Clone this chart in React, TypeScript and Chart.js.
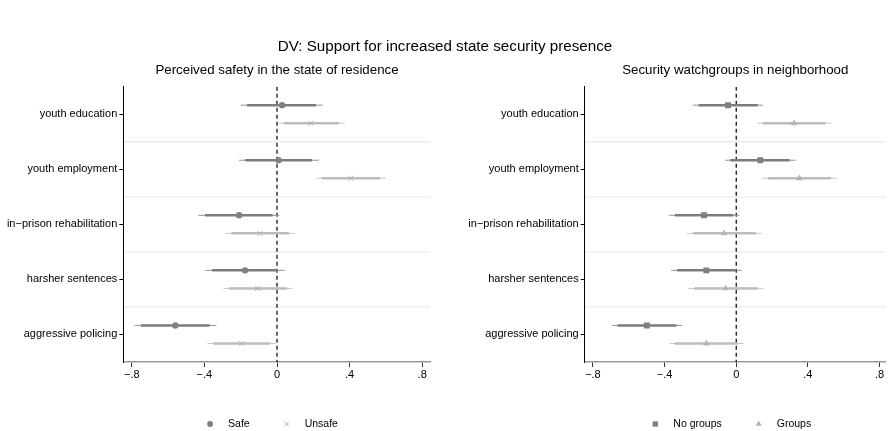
import React, { useEffect, useRef } from "react";
import { Chart, registerables } from "chart.js";

Chart.register(...registerables);

const FONT = '"Liberation Sans", Arial, Helvetica, sans-serif';

// ---------- data ----------
const mainTitle = "DV: Support for increased state security presence";
const categories = [
  "youth education",
  "youth employment",
  "in\u2212prison rehabilitation",
  "harsher sentences",
  "aggressive policing",
];
const xTickValues = [-0.8, -0.4, 0, 0.4, 0.8];

// Panel 1: Perceived safety in the state of residence
const leftTitle = "Perceived safety in the state of residence";
const safeEst = [0.028, 0.009, -0.209, -0.176, -0.56];
const safeLo95 = [-0.2, -0.209, -0.434, -0.395, -0.785];
const safeHi95 = [0.252, 0.23, 0.013, 0.044, -0.334];
const safeLo90 = [-0.165, -0.175, -0.397, -0.358, -0.75];
const safeHi90 = [0.215, 0.193, -0.024, 0.006, -0.371];

const unsafeEst = [0.188, 0.406, -0.092, -0.107, -0.195];
const unsafeLo95 = [0.008, 0.217, -0.281, -0.296, -0.384];
const unsafeHi95 = [0.373, 0.599, 0.097, 0.086, -0.007];
const unsafeLo90 = [0.037, 0.246, -0.252, -0.265, -0.353];
const unsafeHi90 = [0.342, 0.568, 0.066, 0.055, -0.039];

// Panel 2: Security watchgroups in neighborhood
const rightTitle = "Security watchgroups in neighborhood";
const noGroupsEst = [-0.046, 0.134, -0.18, -0.167, -0.499];
const noGroupsLo95 = [-0.242, -0.062, -0.376, -0.363, -0.694];
const noGroupsHi95 = [0.149, 0.331, 0.017, 0.03, -0.301];
const noGroupsLo90 = [-0.211, -0.033, -0.343, -0.33, -0.663];
const noGroupsHi90 = [0.12, 0.298, -0.016, -0.002, -0.334];

const groupsEst = [0.323, 0.353, -0.068, -0.059, -0.167];
const groupsLo95 = [0.116, 0.145, -0.275, -0.268, -0.373];
const groupsHi95 = [0.531, 0.562, 0.143, 0.151, 0.042];
const groupsLo90 = [0.147, 0.178, -0.242, -0.235, -0.343];
const groupsHi90 = [0.498, 0.529, 0.11, 0.12, 0.009];

// ---------- styles ----------
const DARK = { point: "#808080", thick: "#7c7c7c", thin: "#929292" };
const LIGHT = { point: "#b4b4b4", thick: "#bcbcbc", thin: "#c9c9c9" };
const ROW_OFFSET = 0.164;

type Series = {
  label: string;
  est: number[];
  lo95: number[];
  hi95: number[];
  lo90: number[];
  hi90: number[];
  style: string;
  radius: number;
  colors: { point: string; thick: string; thin: string };
  offset: number;
};

type Panel = {
  title: string;
  series: Series[];
  xMin: number;
  xMax: number;
  yAxisWidth: number;
  padRight: number;
};

const panels: Panel[] = [
  {
    title: leftTitle,
    xMin: -0.847,
    xMax: 0.847,
    yAxisWidth: 123.3,
    padRight: 14.3,
    series: [
      { label: "Safe", est: safeEst, lo95: safeLo95, hi95: safeHi95, lo90: safeLo90, hi90: safeHi90, style: "circle", radius: 3.2, colors: DARK, offset: -ROW_OFFSET },
      { label: "Unsafe", est: unsafeEst, lo95: unsafeLo95, hi95: unsafeHi95, lo90: unsafeLo90, hi90: unsafeHi90, style: "crossRot", radius: 3.6, colors: LIGHT, offset: ROW_OFFSET },
    ],
  },
  {
    title: rightTitle,
    xMin: -0.846,
    xMax: 0.835,
    yAxisWidth: 139.7,
    padRight: 0,
    series: [
      { label: "No groups", est: noGroupsEst, lo95: noGroupsLo95, hi95: noGroupsHi95, lo90: noGroupsLo90, hi90: noGroupsHi90, style: "rect", radius: 4.2, colors: DARK, offset: -ROW_OFFSET },
      { label: "Groups", est: groupsEst, lo95: groupsLo95, hi95: groupsHi95, lo90: groupsLo90, hi90: groupsHi90, style: "triangle", radius: 3.8, colors: LIGHT, offset: ROW_OFFSET },
    ],
  },
];

function segments(lo: number[], hi: number[], off: number) {
  const pts: { x: number | null; y: number | null }[] = [];
  lo.forEach((l, i) => {
    const y = i + 0.5 + off;
    pts.push({ x: l, y }, { x: hi[i], y }, { x: null, y: null });
  });
  return pts;
}

function fmtTick(v: number) {
  if (Math.abs(v) < 1e-9) return "0";
  const s = Math.abs(v).toFixed(1).replace(/^0/, "");
  return v < 0 ? "\u2212" + s : s;
}

function drawMarker(ctx: CanvasRenderingContext2D, style: string, x: number, y: number, r: number, color: string) {
  ctx.save();
  ctx.fillStyle = color;
  ctx.strokeStyle = color;
  ctx.lineWidth = 1;
  ctx.beginPath();
  if (style === "circle") {
    ctx.arc(x, y, r, 0, Math.PI * 2);
    ctx.fill();
  } else if (style === "crossRot") {
    const d = r * Math.SQRT1_2;
    ctx.moveTo(x - d, y - d);
    ctx.lineTo(x + d, y + d);
    ctx.moveTo(x - d, y + d);
    ctx.lineTo(x + d, y - d);
    ctx.stroke();
  } else if (style === "rect") {
    const s = r * Math.SQRT1_2;
    ctx.rect(x - s, y - s, 2 * s, 2 * s);
    ctx.fill();
  } else if (style === "triangle") {
    ctx.moveTo(x, y - r);
    ctx.lineTo(x + r * 0.866, y + r / 2);
    ctx.lineTo(x - r * 0.866, y + r / 2);
    ctx.closePath();
    ctx.fill();
  }
  ctx.restore();
}

const separatorPlugin = {
  id: "separators",
  beforeDatasetsDraw(chart: any) {
    const { ctx, chartArea } = chart;
    const ys = chart.scales.y;
    ctx.save();
    ctx.strokeStyle = "#ececec";
    ctx.lineWidth = 1.3;
    for (let k = 1; k < categories.length; k++) {
      const py = ys.getPixelForValue(k);
      ctx.beginPath();
      ctx.moveTo(chartArea.left + 1, py);
      ctx.lineTo(chartArea.right, py);
      ctx.stroke();
    }
    ctx.restore();
  },
};

function makeLegendPlugin(series: Series[]) {
  return {
    id: "customLegend",
    afterDraw(chart: any) {
      const ctx: CanvasRenderingContext2D = chart.ctx;
      ctx.save();
      ctx.font = `10.5px ${FONT}`;
      const textGap = 18;
      const itemGap = 37;
      const widths = series.map((s) => ctx.measureText(s.label).width);
      let total = 4;
      series.forEach((s, i) => {
        total += textGap + widths[i];
        if (i < series.length - 1) total += itemGap;
      });
      const center = chart.scales.x.getPixelForValue(0) - 5;
      let x = center - total / 2 + 4;
      const y = 424;
      ctx.textBaseline = "middle";
      ctx.fillStyle = "#000";
      series.forEach((s, i) => {
        drawMarker(ctx, s.style, x, y, s.radius * 0.9, s.colors.point);
        ctx.fillStyle = "#000";
        ctx.fillText(s.label, x + textGap, y);
        x += textGap + widths[i] + itemGap;
      });
      ctx.restore();
    },
  };
}

function PanelChart({ panel, left }: { panel: Panel; left: number }) {
  const ref = useRef<HTMLCanvasElement | null>(null);
  useEffect(() => {
    if (!ref.current) return;
    const datasets: any[] = [];
    panel.series.forEach((s) => {
      datasets.push({
        label: s.label + " 95",
        data: segments(s.lo95, s.hi95, s.offset),
        showLine: true,
        spanGaps: false,
        borderColor: s.colors.thin,
        borderWidth: 1,
        pointRadius: 0,
        order: 3,
      });
      datasets.push({
        label: s.label + " 90",
        data: segments(s.lo90, s.hi90, s.offset),
        showLine: true,
        spanGaps: false,
        borderColor: s.colors.thick,
        borderWidth: 2.5,
        pointRadius: 0,
        order: 2,
      });
      datasets.push({
        label: s.label,
        data: s.est.map((v, i) => ({ x: v, y: i + 0.5 + s.offset })),
        showLine: false,
        pointStyle: s.style,
        pointRadius: s.radius,
        pointBackgroundColor: s.colors.point,
        pointBorderColor: s.colors.point,
        pointBorderWidth: s.style === "crossRot" ? 1 : 0,
        order: 1,
      });
    });
    datasets.push({
      label: "zero",
      data: [
        { x: 0, y: 0 },
        { x: 0, y: categories.length },
      ],
      showLine: true,
      borderColor: "#000",
      borderWidth: 1.2,
      borderDash: [4, 3],
      pointRadius: 0,
      order: 10,
    });

    const chart = new Chart(ref.current, {
      type: "scatter",
      data: { datasets },
      options: {
        animation: false,
        responsive: false,
        maintainAspectRatio: false,
        events: [],
        layout: { padding: { left: 0, right: panel.padRight, top: 0, bottom: 0 } },
        plugins: {
          legend: { display: false },
          tooltip: { enabled: false },
          title: {
            display: true,
            fullSize: false,
            text: panel.title,
            color: "#000",
            font: { family: FONT, size: 13.3, weight: "normal" },
            padding: { top: 62, bottom: 8.7 },
          },
        },
        scales: {
          x: {
            type: "linear",
            min: panel.xMin,
            max: panel.xMax,
            afterBuildTicks: (s: any) => {
              s.ticks = xTickValues.map((v) => ({ value: v }));
            },
            afterFit: (s: any) => {
              s.height = 69;
              s.paddingLeft = 0;
              s.paddingRight = 0;
            },
            grid: { drawOnChartArea: false, drawTicks: true, tickLength: 5, color: "#333", lineWidth: 1 },
            border: { display: true, color: "#9a9a9a", width: 1.5 },
            ticks: {
              callback: (v: any) => fmtTick(Number(v)),
              font: { family: FONT, size: 11 },
              color: "#000",
              padding: 1.5,
              maxRotation: 0,
              autoSkip: false,
            },
          },
          y: {
            type: "linear",
            min: 0,
            max: categories.length,
            reverse: true,
            afterBuildTicks: (s: any) => {
              s.ticks = categories.map((_, i) => ({ value: i + 0.5 }));
            },
            afterFit: (s: any) => {
              s.width = panel.yAxisWidth;
              s.paddingTop = 0;
              s.paddingBottom = 0;
            },
            grid: { drawOnChartArea: false, drawTicks: true, tickLength: 4, color: "#000", lineWidth: 1 },
            border: { display: true, color: "#000", width: 1 },
            ticks: {
              callback: (_v: any, i: number) => categories[i],
              font: { family: FONT, size: 11 },
              color: "#000",
              padding: 2,
              autoSkip: false,
            },
          },
        },
      } as any,
      plugins: [separatorPlugin, makeLegendPlugin(panel.series)],
    });
    return () => chart.destroy();
  }, [panel]);

  return (
    <canvas
      ref={ref}
      width={445}
      height={431}
      style={{ position: "absolute", left, top: 0, width: 445, height: 431 }}
    />
  );
}

export default function App() {
  return (
    <div
      style={{
        position: "absolute",
        left: 0,
        top: 0,
        width: 890,
        height: 431,
        background: "#fff",
        overflow: "hidden",
      }}
    >
      <PanelChart panel={panels[0]} left={0} />
      <PanelChart panel={panels[1]} left={445} />
      <div
        style={{
          position: "absolute",
          left: 0,
          top: 36.5,
          width: 890,
          textAlign: "center",
          fontFamily: FONT,
          fontSize: 15.2,
          lineHeight: "18px",
          color: "#000",
          whiteSpace: "nowrap",
        }}
      >
        {mainTitle}
      </div>
    </div>
  );
}
